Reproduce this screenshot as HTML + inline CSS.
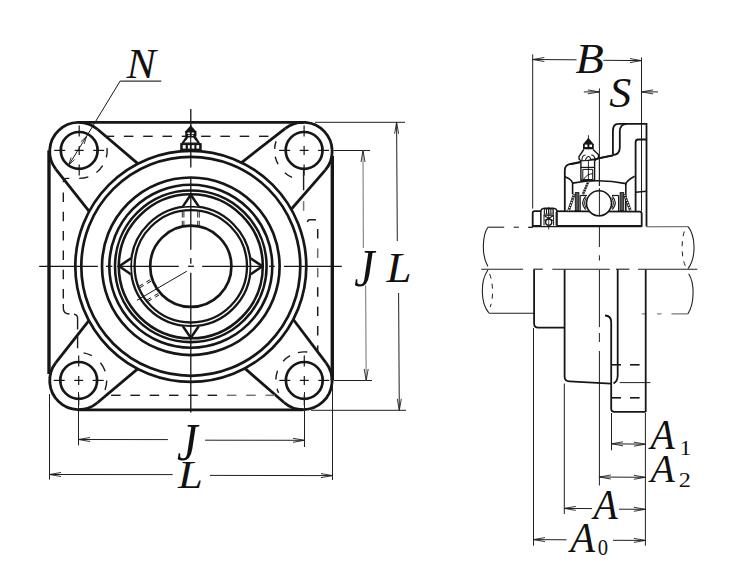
<!DOCTYPE html>
<html><head><meta charset="utf-8"><style>
html,body{margin:0;padding:0;background:#fff;}
svg{display:block;}
text{font-family:"Liberation Serif",serif;fill:#111;}
</style></head><body>
<svg width="729" height="581" viewBox="0 0 729 581">
<rect width="729" height="581" fill="#fff"/>
<line x1="79.00" y1="122.40" x2="304.00" y2="122.40" stroke="#161616" stroke-width="2.8" />
<line x1="79.00" y1="409.80" x2="303.00" y2="409.80" stroke="#161616" stroke-width="2.8" />
<line x1="49.00" y1="150.40" x2="49.00" y2="374.00" stroke="#161616" stroke-width="3.4" />
<line x1="332.30" y1="156.00" x2="332.30" y2="380.00" stroke="#161616" stroke-width="3.4" />
<line x1="97.52" y1="129.24" x2="137.85" y2="163.65" stroke="#161616" stroke-width="2.8" />
<line x1="55.93" y1="169.26" x2="89.17" y2="211.42" stroke="#161616" stroke-width="2.8" />
<path d="M97.52,129.24 L97.52,129.24 A29.0,29.0 0 0 0 55.93,169.26 L55.93,169.26" fill="none" stroke="#161616" stroke-width="2.8" />
<circle cx="79.20" cy="150.40" r="18.40" fill="none" stroke="#161616" stroke-width="2.7" />
<line x1="74.70" y1="150.40" x2="83.70" y2="150.40" stroke="#161616" stroke-width="1.2" />
<line x1="79.20" y1="145.90" x2="79.20" y2="154.90" stroke="#161616" stroke-width="1.2" />
<line x1="54.20" y1="150.40" x2="65.20" y2="150.40" stroke="#161616" stroke-width="1.2" />
<line x1="79.20" y1="125.40" x2="79.20" y2="136.40" stroke="#161616" stroke-width="1.2" />
<line x1="93.20" y1="150.40" x2="104.20" y2="150.40" stroke="#161616" stroke-width="1.2" />
<line x1="79.20" y1="164.40" x2="79.20" y2="175.40" stroke="#161616" stroke-width="1.2" />
<line x1="285.40" y1="128.41" x2="241.52" y2="162.53" stroke="#161616" stroke-width="2.8" />
<line x1="325.08" y1="170.33" x2="291.23" y2="209.26" stroke="#161616" stroke-width="2.8" />
<path d="M285.40,128.41 L285.40,128.41 A29.0,29.0 0 0 1 325.08,170.33 L325.08,170.33" fill="none" stroke="#161616" stroke-width="2.8" />
<circle cx="304.10" cy="150.40" r="18.40" fill="none" stroke="#161616" stroke-width="2.7" />
<line x1="299.60" y1="150.40" x2="308.60" y2="150.40" stroke="#161616" stroke-width="1.2" />
<line x1="304.10" y1="145.90" x2="304.10" y2="154.90" stroke="#161616" stroke-width="1.2" />
<line x1="279.10" y1="150.40" x2="290.10" y2="150.40" stroke="#161616" stroke-width="1.2" />
<line x1="304.10" y1="125.40" x2="304.10" y2="136.40" stroke="#161616" stroke-width="1.2" />
<line x1="318.10" y1="150.40" x2="329.10" y2="150.40" stroke="#161616" stroke-width="1.2" />
<line x1="304.10" y1="164.40" x2="304.10" y2="175.40" stroke="#161616" stroke-width="1.2" />
<line x1="55.87" y1="362.72" x2="88.85" y2="320.59" stroke="#161616" stroke-width="2.8" />
<line x1="97.38" y1="402.78" x2="137.68" y2="368.86" stroke="#161616" stroke-width="2.8" />
<path d="M55.87,362.72 L55.87,362.72 A29.0,29.0 0 0 0 97.38,402.78 L97.38,402.78" fill="none" stroke="#161616" stroke-width="2.8" />
<circle cx="78.70" cy="380.40" r="18.40" fill="none" stroke="#161616" stroke-width="2.7" />
<line x1="74.20" y1="380.40" x2="83.20" y2="380.40" stroke="#161616" stroke-width="1.2" />
<line x1="78.70" y1="375.90" x2="78.70" y2="384.90" stroke="#161616" stroke-width="1.2" />
<line x1="53.70" y1="380.40" x2="64.70" y2="380.40" stroke="#161616" stroke-width="1.2" />
<line x1="78.70" y1="355.40" x2="78.70" y2="366.40" stroke="#161616" stroke-width="1.2" />
<line x1="92.70" y1="380.40" x2="103.70" y2="380.40" stroke="#161616" stroke-width="1.2" />
<line x1="78.70" y1="394.40" x2="78.70" y2="405.40" stroke="#161616" stroke-width="1.2" />
<line x1="326.24" y1="363.12" x2="293.31" y2="319.52" stroke="#161616" stroke-width="2.8" />
<line x1="284.05" y1="402.47" x2="244.89" y2="368.35" stroke="#161616" stroke-width="2.8" />
<path d="M326.24,363.12 L326.24,363.12 A29.0,29.0 0 0 1 284.05,402.47 L284.05,402.47" fill="none" stroke="#161616" stroke-width="2.8" />
<circle cx="304.30" cy="380.40" r="18.40" fill="none" stroke="#161616" stroke-width="2.7" />
<line x1="299.80" y1="380.40" x2="308.80" y2="380.40" stroke="#161616" stroke-width="1.2" />
<line x1="304.30" y1="375.90" x2="304.30" y2="384.90" stroke="#161616" stroke-width="1.2" />
<line x1="279.30" y1="380.40" x2="290.30" y2="380.40" stroke="#161616" stroke-width="1.2" />
<line x1="304.30" y1="355.40" x2="304.30" y2="366.40" stroke="#161616" stroke-width="1.2" />
<line x1="318.30" y1="380.40" x2="329.30" y2="380.40" stroke="#161616" stroke-width="1.2" />
<line x1="304.30" y1="394.40" x2="304.30" y2="405.40" stroke="#161616" stroke-width="1.2" />
<circle cx="190.80" cy="266.30" r="115.50" fill="none" stroke="#161616" stroke-width="2.7" />
<circle cx="190.80" cy="266.30" r="109.50" fill="none" stroke="#161616" stroke-width="2.7" />
<circle cx="190.80" cy="266.30" r="88.80" fill="none" stroke="#161616" stroke-width="2.7" />
<circle cx="190.80" cy="266.30" r="81.50" fill="none" stroke="#161616" stroke-width="2.6" />
<circle cx="190.80" cy="266.30" r="75.80" fill="none" stroke="#161616" stroke-width="2.6" />
<circle cx="190.80" cy="266.30" r="72.00" fill="none" stroke="#161616" stroke-width="2.6" />
<circle cx="190.80" cy="266.30" r="59.90" fill="none" stroke="#161616" stroke-width="2.3" />
<circle cx="190.80" cy="266.30" r="56.20" fill="none" stroke="#161616" stroke-width="2.3" />
<circle cx="190.80" cy="266.30" r="40.60" fill="none" stroke="#161616" stroke-width="2.7" />
<path d="M250.70,274.20 Q252.20,266.30 250.70,258.40 L262.40,266.30 Z" fill="#fff" stroke="#161616" stroke-width="0" stroke="none"/>
<path d="M250.70,274.20 L262.40,266.30 L250.70,258.40" fill="none" stroke="#161616" stroke-width="2.5" stroke-linejoin="round"/>
<path d="M182.90,326.20 Q190.80,327.70 198.70,326.20 L190.80,337.90 Z" fill="#fff" stroke="#161616" stroke-width="0" stroke="none"/>
<path d="M182.90,326.20 L190.80,337.90 L198.70,326.20" fill="none" stroke="#161616" stroke-width="2.5" stroke-linejoin="round"/>
<path d="M130.90,258.40 Q129.40,266.30 130.90,274.20 L119.20,266.30 Z" fill="#fff" stroke="#161616" stroke-width="0" stroke="none"/>
<path d="M130.90,258.40 L119.20,266.30 L130.90,274.20" fill="none" stroke="#161616" stroke-width="2.5" stroke-linejoin="round"/>
<path d="M198.70,206.40 Q190.80,204.90 182.90,206.40 L190.80,194.70 Z" fill="#fff" stroke="#161616" stroke-width="0" stroke="none"/>
<path d="M198.70,206.40 L190.80,194.70 L182.90,206.40" fill="none" stroke="#161616" stroke-width="2.5" stroke-linejoin="round"/>
<line x1="39.20" y1="266.30" x2="97.90" y2="266.30" stroke="#161616" stroke-width="1.3" />
<line x1="106.00" y1="266.30" x2="112.30" y2="266.30" stroke="#161616" stroke-width="1.3" />
<line x1="117.10" y1="266.30" x2="178.80" y2="266.30" stroke="#161616" stroke-width="1.3" />
<line x1="188.10" y1="266.30" x2="193.90" y2="266.30" stroke="#161616" stroke-width="1.3" />
<line x1="202.20" y1="266.30" x2="262.00" y2="266.30" stroke="#161616" stroke-width="1.3" />
<line x1="269.00" y1="266.30" x2="274.80" y2="266.30" stroke="#161616" stroke-width="1.3" />
<line x1="283.90" y1="266.30" x2="341.80" y2="266.30" stroke="#161616" stroke-width="1.3" />
<line x1="190.80" y1="109.00" x2="190.80" y2="167.50" stroke="#161616" stroke-width="1.3" />
<line x1="190.80" y1="177.00" x2="190.80" y2="249.70" stroke="#161616" stroke-width="1.3" />
<line x1="190.80" y1="258.00" x2="190.80" y2="263.80" stroke="#161616" stroke-width="1.3" />
<line x1="190.80" y1="272.80" x2="190.80" y2="412.40" stroke="#161616" stroke-width="1.3" />
<line x1="182.30" y1="211.50" x2="182.30" y2="217.50" stroke="#161616" stroke-width="0.9" />
<line x1="182.30" y1="220.80" x2="182.30" y2="225.00" stroke="#161616" stroke-width="0.9" />
<line x1="183.90" y1="211.50" x2="183.90" y2="217.50" stroke="#161616" stroke-width="0.9" />
<line x1="183.90" y1="220.80" x2="183.90" y2="225.00" stroke="#161616" stroke-width="0.9" />
<line x1="197.70" y1="211.50" x2="197.70" y2="217.50" stroke="#161616" stroke-width="0.9" />
<line x1="197.70" y1="220.80" x2="197.70" y2="225.00" stroke="#161616" stroke-width="0.9" />
<line x1="199.30" y1="211.50" x2="199.30" y2="217.50" stroke="#161616" stroke-width="0.9" />
<line x1="199.30" y1="220.80" x2="199.30" y2="225.00" stroke="#161616" stroke-width="0.9" />
<line x1="186.80" y1="271.20" x2="137.00" y2="300.30" stroke="#161616" stroke-width="1.0" />
<line x1="151.08" y1="281.17" x2="147.28" y2="283.39" stroke="#161616" stroke-width="1.0" />
<line x1="150.22" y1="279.70" x2="146.42" y2="281.92" stroke="#161616" stroke-width="1.0" />
<line x1="158.24" y1="293.43" x2="154.44" y2="295.65" stroke="#161616" stroke-width="1.0" />
<line x1="159.10" y1="294.90" x2="155.30" y2="297.12" stroke="#161616" stroke-width="1.0" />
<line x1="143.74" y1="285.46" x2="139.94" y2="287.68" stroke="#161616" stroke-width="1.0" />
<line x1="142.88" y1="283.99" x2="139.08" y2="286.21" stroke="#161616" stroke-width="1.0" />
<line x1="150.90" y1="297.72" x2="147.10" y2="299.94" stroke="#161616" stroke-width="1.0" />
<line x1="151.76" y1="299.19" x2="147.96" y2="301.41" stroke="#161616" stroke-width="1.0" />
<line x1="106.50" y1="136.30" x2="114.10" y2="136.30" stroke="#1c1c1c" stroke-width="1.4" />
<line x1="123.90" y1="136.30" x2="133.40" y2="136.30" stroke="#1c1c1c" stroke-width="1.4" />
<line x1="143.20" y1="136.30" x2="152.70" y2="136.30" stroke="#1c1c1c" stroke-width="1.4" />
<line x1="162.50" y1="136.30" x2="172.00" y2="136.30" stroke="#1c1c1c" stroke-width="1.4" />
<line x1="181.80" y1="136.30" x2="191.30" y2="136.30" stroke="#1c1c1c" stroke-width="1.4" />
<line x1="201.10" y1="136.30" x2="210.60" y2="136.30" stroke="#1c1c1c" stroke-width="1.4" />
<line x1="220.40" y1="136.30" x2="229.90" y2="136.30" stroke="#1c1c1c" stroke-width="1.4" />
<line x1="239.70" y1="136.30" x2="249.20" y2="136.30" stroke="#1c1c1c" stroke-width="1.4" />
<line x1="259.00" y1="136.30" x2="268.50" y2="136.30" stroke="#1c1c1c" stroke-width="1.4" />
<line x1="111.10" y1="395.30" x2="120.60" y2="395.30" stroke="#1c1c1c" stroke-width="1.4" />
<line x1="130.40" y1="395.30" x2="139.90" y2="395.30" stroke="#1c1c1c" stroke-width="1.4" />
<line x1="149.70" y1="395.30" x2="159.20" y2="395.30" stroke="#1c1c1c" stroke-width="1.4" />
<line x1="169.00" y1="395.30" x2="178.50" y2="395.30" stroke="#1c1c1c" stroke-width="1.4" />
<line x1="188.30" y1="395.30" x2="197.80" y2="395.30" stroke="#1c1c1c" stroke-width="1.4" />
<line x1="207.60" y1="395.30" x2="217.10" y2="395.30" stroke="#1c1c1c" stroke-width="1.4" />
<line x1="226.90" y1="395.30" x2="236.40" y2="395.30" stroke="#777" stroke-width="1.5" />
<line x1="246.20" y1="395.30" x2="255.70" y2="395.30" stroke="#777" stroke-width="1.5" />
<line x1="265.50" y1="395.30" x2="275.00" y2="395.30" stroke="#777" stroke-width="1.5" />
<path d="M69.3,178.4 L67.2,178.4 Q63.3,178.4 63.3,182.3" fill="none" stroke="#1c1c1c" stroke-width="1.4" />
<line x1="63.30" y1="192.50" x2="63.30" y2="202.00" stroke="#1c1c1c" stroke-width="1.4" />
<line x1="63.30" y1="211.80" x2="63.30" y2="221.30" stroke="#1c1c1c" stroke-width="1.4" />
<line x1="63.30" y1="231.10" x2="63.30" y2="240.60" stroke="#1c1c1c" stroke-width="1.4" />
<line x1="63.30" y1="250.40" x2="63.30" y2="259.90" stroke="#1c1c1c" stroke-width="1.4" />
<line x1="63.30" y1="269.70" x2="63.30" y2="279.20" stroke="#1c1c1c" stroke-width="1.4" />
<line x1="63.30" y1="289.00" x2="63.30" y2="298.50" stroke="#1c1c1c" stroke-width="1.4" />
<path d="M63.3,304 L63.3,308 Q63.3,314 69.5,314" fill="none" stroke="#1c1c1c" stroke-width="1.4" />
<path d="M74,314.3 Q77.6,314.6 77.6,318.5 L77.6,329.4" fill="none" stroke="#1c1c1c" stroke-width="1.4" />
<line x1="77.60" y1="335.70" x2="77.60" y2="348.30" stroke="#1c1c1c" stroke-width="1.4" />
<line x1="303.60" y1="169.50" x2="303.60" y2="190.30" stroke="#1c1c1c" stroke-width="1.4" />
<line x1="303.60" y1="201.10" x2="303.60" y2="210.80" stroke="#777" stroke-width="1.5" />
<path d="M307.6,222 Q307.6,219.8 309.6,219.8 L315.9,219.8" fill="none" stroke="#1c1c1c" stroke-width="1.4" />
<line x1="317.70" y1="229.00" x2="317.70" y2="238.50" stroke="#1c1c1c" stroke-width="1.5" />
<line x1="317.70" y1="248.40" x2="317.70" y2="257.90" stroke="#6a6a6a" stroke-width="1.5" />
<line x1="317.70" y1="267.80" x2="317.70" y2="277.30" stroke="#6a6a6a" stroke-width="1.5" />
<line x1="317.70" y1="287.20" x2="317.70" y2="296.70" stroke="#1c1c1c" stroke-width="1.5" />
<line x1="317.70" y1="306.60" x2="317.70" y2="316.10" stroke="#1c1c1c" stroke-width="1.5" />
<line x1="317.70" y1="326.00" x2="317.70" y2="335.50" stroke="#1c1c1c" stroke-width="1.5" />
<line x1="317.70" y1="345.40" x2="317.70" y2="351.00" stroke="#1c1c1c" stroke-width="1.5" />
<path d="M107.09,147.96 A28,28 0 0 1 106.32,157.36" fill="none" stroke="#1c1c1c" stroke-width="1.4" />
<path d="M102.68,165.65 A28,28 0 0 1 96.44,172.46" fill="none" stroke="#1c1c1c" stroke-width="1.4" />
<path d="M88.32,176.87 A28,28 0 0 1 79.20,178.40" fill="none" stroke="#1c1c1c" stroke-width="1.4" />
<path d="M292.10,177.35 A29.5,29.5 0 0 1 284.75,172.66" fill="none" stroke="#1c1c1c" stroke-width="1.4" />
<path d="M278.05,164.25 A29.5,29.5 0 0 1 275.24,156.53" fill="none" stroke="#1c1c1c" stroke-width="1.4" />
<path d="M274.64,148.86 A29.5,29.5 0 0 1 276.04,141.28" fill="none" stroke="#1c1c1c" stroke-width="1.4" />
<path d="M83.56,352.83 A28,28 0 0 1 91.85,355.68" fill="none" stroke="#1c1c1c" stroke-width="1.4" />
<path d="M100.46,362.78 A28,28 0 0 1 105.17,371.28" fill="none" stroke="#1c1c1c" stroke-width="1.4" />
<path d="M106.70,380.40 A28,28 0 0 1 105.01,389.98" fill="none" stroke="#1c1c1c" stroke-width="1.4" />
<path d="M278.68,392.89 A28.5,28.5 0 0 1 277.05,388.73" fill="none" stroke="#1c1c1c" stroke-width="1.4" />
<path d="M275.82,379.41 A28.5,28.5 0 0 1 277.52,370.65" fill="none" stroke="#1c1c1c" stroke-width="1.4" />
<path d="M283.12,361.33 A28.5,28.5 0 0 1 290.05,355.72" fill="none" stroke="#1c1c1c" stroke-width="1.4" />
<path d="M297.89,352.63 A28.5,28.5 0 0 1 307.28,352.06" fill="none" stroke="#1c1c1c" stroke-width="1.4" />
<path d="M190.7,125.3 L196.8,131.9 L184.7,131.9 Z" fill="#161616"/>
<rect x="185.2" y="131.6" width="11.3" height="4.7" fill="#161616"/>
<rect x="187.5" y="132.5" width="2.3" height="1.5" fill="#fff"/><rect x="191.6" y="132.5" width="2.3" height="1.5" fill="#fff"/>
<rect x="188.2" y="134.8" width="1.6" height="1.1" fill="#fff"/><rect x="191.6" y="134.8" width="1.6" height="1.1" fill="#fff"/>
<path d="M186.2,136 L195.6,136 L200.3,143.4 L181.1,143.4 Z" fill="#161616"/>
<path d="M188.2,137.4 L193.3,137.4 Q195.4,140.5 197.4,142.6 L184.1,142.6 Q186.3,140.5 188.2,137.4 Z" fill="#fff"/>
<rect x="180.2" y="143.1" width="21.5" height="6.9" fill="#161616"/>
<rect x="182.7" y="145.1" width="3.0" height="3.5" fill="#fff"/>
<rect x="187.9" y="145.1" width="2.0" height="3.5" fill="#fff"/>
<rect x="191.6" y="145.1" width="2.8" height="3.5" fill="#fff"/>
<rect x="196.4" y="145.1" width="2.8" height="3.5" fill="#fff"/>
<line x1="190.70" y1="125.00" x2="190.70" y2="150.00" stroke="#161616" stroke-width="1.1" />
<line x1="120.20" y1="81.20" x2="161.30" y2="81.20" stroke="#333" stroke-width="1.2" />
<line x1="120.20" y1="81.00" x2="86.50" y2="136.40" stroke="#1a1a1a" stroke-width="1.0" />
<line x1="86.50" y1="136.40" x2="68.60" y2="165.30" stroke="#1a1a1a" stroke-width="1.0" />
<path d="M84.19,143.95 L86.70,136.10 L80.79,141.85" fill="none" stroke="#202020" stroke-width="0.9" />
<path d="M71.11,157.45 L68.60,165.30 L74.51,159.55" fill="none" stroke="#202020" stroke-width="0.9" />
<line x1="78.50" y1="392.00" x2="78.50" y2="445.30" stroke="#202020" stroke-width="1.0" />
<line x1="304.50" y1="392.00" x2="304.50" y2="447.00" stroke="#202020" stroke-width="1.0" />
<line x1="78.50" y1="439.50" x2="167.90" y2="439.60" stroke="#202020" stroke-width="1.0" />
<line x1="205.10" y1="440.20" x2="304.50" y2="440.30" stroke="#202020" stroke-width="1.0" />
<path d="M90.00,437.50 L78.50,439.50 L90.00,441.50" fill="none" stroke="#202020" stroke-width="0.9" />
<path d="M293.00,442.30 L304.50,440.30 L293.00,438.30" fill="none" stroke="#202020" stroke-width="0.9" />
<line x1="49.50" y1="394.00" x2="49.50" y2="479.50" stroke="#202020" stroke-width="1.0" />
<line x1="332.50" y1="383.00" x2="332.50" y2="480.00" stroke="#202020" stroke-width="1.0" />
<line x1="49.50" y1="474.50" x2="172.70" y2="474.60" stroke="#202020" stroke-width="1.0" />
<line x1="209.90" y1="475.40" x2="332.50" y2="475.60" stroke="#202020" stroke-width="1.0" />
<path d="M61.00,472.50 L49.50,474.50 L61.00,476.50" fill="none" stroke="#202020" stroke-width="0.9" />
<path d="M321.00,477.60 L332.50,475.60 L321.00,473.60" fill="none" stroke="#202020" stroke-width="0.9" />
<line x1="333.50" y1="150.50" x2="370.00" y2="150.50" stroke="#202020" stroke-width="1.0" />
<line x1="333.50" y1="380.50" x2="372.00" y2="380.50" stroke="#202020" stroke-width="1.0" />
<line x1="363.00" y1="150.50" x2="363.40" y2="247.90" stroke="#8a8a8a" stroke-width="1.2" />
<line x1="365.60" y1="285.60" x2="366.20" y2="380.50" stroke="#8a8a8a" stroke-width="1.2" />
<path d="M365.00,162.00 L363.00,150.50 L361.00,162.00" fill="none" stroke="#202020" stroke-width="0.9" />
<path d="M364.20,369.00 L366.20,380.50 L368.20,369.00" fill="none" stroke="#202020" stroke-width="0.9" />
<line x1="315.00" y1="122.30" x2="405.00" y2="122.30" stroke="#202020" stroke-width="1.0" />
<line x1="311.00" y1="410.30" x2="406.00" y2="410.30" stroke="#202020" stroke-width="1.0" />
<line x1="396.60" y1="122.30" x2="397.30" y2="241.00" stroke="#202020" stroke-width="1.0" />
<line x1="398.60" y1="293.00" x2="399.30" y2="410.30" stroke="#202020" stroke-width="1.0" />
<path d="M398.60,133.80 L396.60,122.30 L394.60,133.80" fill="none" stroke="#202020" stroke-width="0.9" />
<path d="M397.30,398.80 L399.30,410.30 L401.30,398.80" fill="none" stroke="#202020" stroke-width="0.9" />
<line x1="532.70" y1="54.40" x2="532.70" y2="208.60" stroke="#202020" stroke-width="1.0" />
<line x1="641.50" y1="57.50" x2="641.50" y2="211.30" stroke="#202020" stroke-width="1.0" />
<line x1="532.80" y1="59.50" x2="576.60" y2="59.80" stroke="#202020" stroke-width="1.0" />
<line x1="603.30" y1="60.30" x2="641.40" y2="60.60" stroke="#202020" stroke-width="1.0" />
<path d="M544.30,57.50 L532.80,59.50 L544.30,61.50" fill="none" stroke="#202020" stroke-width="0.9" />
<path d="M629.90,62.60 L641.40,60.60 L629.90,58.60" fill="none" stroke="#202020" stroke-width="0.9" />
<line x1="583.80" y1="91.90" x2="599.30" y2="91.90" stroke="#202020" stroke-width="1.0" />
<path d="M587.80,93.90 L599.30,91.90 L587.80,89.90" fill="none" stroke="#202020" stroke-width="0.9" />
<line x1="641.60" y1="91.90" x2="657.90" y2="91.90" stroke="#202020" stroke-width="1.0" />
<path d="M653.10,89.90 L641.60,91.90 L653.10,93.90" fill="none" stroke="#202020" stroke-width="0.9" />
<line x1="599.40" y1="88.40" x2="599.40" y2="186.00" stroke="#202020" stroke-width="1.0" />
<line x1="599.40" y1="188.50" x2="599.40" y2="247.00" stroke="#202020" stroke-width="1.0" />
<line x1="599.40" y1="255.30" x2="599.40" y2="260.50" stroke="#202020" stroke-width="1.0" />
<line x1="599.40" y1="269.80" x2="599.40" y2="327.20" stroke="#202020" stroke-width="1.0" />
<line x1="599.40" y1="333.00" x2="599.40" y2="342.00" stroke="#202020" stroke-width="1.0" />
<line x1="599.40" y1="351.00" x2="599.40" y2="485.50" stroke="#202020" stroke-width="1.0" />
<line x1="481.30" y1="269.20" x2="523.10" y2="269.20" stroke="#202020" stroke-width="1.1" />
<line x1="533.40" y1="269.20" x2="542.80" y2="269.20" stroke="#202020" stroke-width="1.1" />
<line x1="552.30" y1="269.20" x2="609.70" y2="269.20" stroke="#202020" stroke-width="1.1" />
<line x1="616.00" y1="269.20" x2="629.40" y2="269.20" stroke="#202020" stroke-width="1.1" />
<line x1="638.10" y1="269.20" x2="697.30" y2="269.20" stroke="#202020" stroke-width="1.1" />
<line x1="487.90" y1="227.20" x2="504.20" y2="227.20" stroke="#202020" stroke-width="1.1" />
<line x1="513.70" y1="227.20" x2="518.90" y2="227.20" stroke="#202020" stroke-width="1.1" />
<line x1="528.30" y1="227.20" x2="532.60" y2="227.20" stroke="#202020" stroke-width="1.1" />
<line x1="646.50" y1="226.80" x2="688.10" y2="226.70" stroke="#555" stroke-width="1.0" />
<path d="M487.9,227.2 C482.5,235 481.2,255 487.9,266.4" fill="none" stroke="#202020" stroke-width="1.1" />
<path d="M688.1,226.7 C695.5,236 696.5,257 688.1,268.6" fill="none" stroke="#202020" stroke-width="1.1" />
<path d="M684.3,231.5 C681.2,241 681.2,257 685.3,265.8" fill="none" stroke="#202020" stroke-width="1.0" stroke-dasharray="5 5"/>
<path d="M487.9,270 C480.2,281 480.4,303 488.8,312.9" fill="none" stroke="#202020" stroke-width="1.1" />
<path d="M489.6,274 C493.4,283 493.4,299 490.2,307" fill="none" stroke="#202020" stroke-width="1.0" stroke-dasharray="5 5"/>
<path d="M688.7,273.7 C694.8,283 694.6,304 687.8,313.9" fill="none" stroke="#202020" stroke-width="1.1" />
<line x1="488.80" y1="313.30" x2="534.00" y2="313.30" stroke="#202020" stroke-width="1.1" />
<line x1="641.70" y1="313.90" x2="646.20" y2="313.90" stroke="#666" stroke-width="1.0" />
<line x1="657.00" y1="313.90" x2="661.60" y2="313.90" stroke="#666" stroke-width="1.0" />
<line x1="671.50" y1="313.90" x2="687.80" y2="313.90" stroke="#555" stroke-width="1.0" />
<path d="M532.7,226 L532.7,213 Q532.7,211.2 534.5,211.2 L639.8,211.7 Q641.7,211.7 641.7,213.7 L641.7,225.9 Z" fill="#fff" stroke="#161616" stroke-width="1.8" />
<line x1="532.70" y1="226.10" x2="641.70" y2="226.10" stroke="#161616" stroke-width="2.3" />
<path d="M540.8,226 L540.8,212 Q540.8,208.4 544.5,208.2 L553.3,208.2 Q557,208.4 557,212 L557,226" fill="#fff" stroke="#161616" stroke-width="1.6" />
<rect x="543.8" y="208.2" width="10" height="6.4" fill="#161616"/>
<rect x="544.9" y="209.4" width="1.1" height="4.3" fill="#fff"/>
<rect x="547.0" y="209.4" width="1.1" height="4.3" fill="#fff"/>
<rect x="549.2" y="209.4" width="1.1" height="4.3" fill="#fff"/>
<rect x="551.4" y="209.4" width="1.1" height="4.3" fill="#fff"/>
<line x1="543.80" y1="215.40" x2="553.80" y2="215.40" stroke="#161616" stroke-width="0.9" />
<line x1="544.60" y1="216.00" x2="552.80" y2="220.60" stroke="#161616" stroke-width="1.2" />
<line x1="552.80" y1="216.00" x2="544.60" y2="220.60" stroke="#161616" stroke-width="1.2" />
<circle cx="548.70" cy="222.30" r="3.10" fill="none" stroke="#161616" stroke-width="1.3" />
<line x1="544.00" y1="214.60" x2="544.00" y2="225.50" stroke="#161616" stroke-width="1.0" />
<line x1="553.60" y1="214.60" x2="553.60" y2="225.50" stroke="#161616" stroke-width="1.0" />
<line x1="541.30" y1="212.00" x2="541.30" y2="225.50" stroke="#777" stroke-width="0.8" />
<line x1="556.20" y1="212.00" x2="556.20" y2="225.50" stroke="#161616" stroke-width="1.2" />
<line x1="548.70" y1="207.00" x2="548.70" y2="229.70" stroke="#161616" stroke-width="0.8" />
<line x1="528.40" y1="227.50" x2="532.70" y2="227.50" stroke="#202020" stroke-width="1.0" />
<path d="M618.1,123.9 L646.5,123.9 L646.5,226.4" fill="none" stroke="#161616" stroke-width="1.8" />
<path d="M618.1,123.9 Q612.9,123.9 612.9,131.4 L612.9,154.6" fill="none" stroke="#161616" stroke-width="1.8" />
<path d="M626.7,123.9 Q619.8,124.4 619.8,131.4 L619.8,147.7 Q619.8,154.3 612.9,155" fill="none" stroke="#161616" stroke-width="1.8" />
<path d="M612.9,155.4 L569.5,164.1 Q564.8,165.1 564.8,170.5 L564.8,211" fill="none" stroke="#161616" stroke-width="1.8" />
<path d="M646.5,139.5 L638.2,139.5 Q635.6,139.5 635.6,142.3 L635.6,211.3" fill="none" stroke="#161616" stroke-width="1.8" />
<line x1="635.60" y1="192.30" x2="646.50" y2="191.30" stroke="#161616" stroke-width="1.6" />
<path d="M564.8,176.8 Q571.5,179 572.6,183.1 L572.6,194" fill="none" stroke="#161616" stroke-width="1.6" />
<path d="M572.6,183.1 Q599.4,178.2 626,183.6" fill="none" stroke="#161616" stroke-width="1.6" />
<path d="M625.6,184.7 Q626,181 634.6,176.3" fill="none" stroke="#161616" stroke-width="1.6" />
<line x1="625.80" y1="183.60" x2="625.80" y2="211.30" stroke="#161616" stroke-width="1.6" />
<circle cx="599.0" cy="203.3" r="12.5" fill="#fff" stroke="#161616" stroke-width="1.6"/>
<line x1="599.40" y1="188.50" x2="599.40" y2="216.50" stroke="#202020" stroke-width="1.0" />
<path d="M585.6,196.3 Q579.8,202.8 585.6,209.5" fill="none" stroke="#161616" stroke-width="1.2" />
<path d="M586.3,197.6 Q582.9,202.8 586.3,208.3" fill="none" stroke="#161616" stroke-width="1.0" />
<path d="M612.4,196.3 Q618.2,202.8 612.4,209.5" fill="none" stroke="#161616" stroke-width="1.2" />
<path d="M611.7,197.6 Q615.1,202.8 611.7,208.3" fill="none" stroke="#161616" stroke-width="1.0" />
<line x1="580.20" y1="195.50" x2="580.20" y2="211.00" stroke="#161616" stroke-width="1.2" />
<line x1="618.60" y1="195.50" x2="618.60" y2="211.00" stroke="#161616" stroke-width="1.2" />
<line x1="580.20" y1="195.50" x2="587.00" y2="195.50" stroke="#161616" stroke-width="1.2" />
<line x1="612.00" y1="195.50" x2="618.60" y2="195.50" stroke="#161616" stroke-width="1.2" />
<path d="M568.6,210.6 L574.2,194.2" fill="none" stroke="#161616" stroke-width="2.6" />
<path d="M568.6,210.6 L574.2,194.2" fill="none" stroke="#fff" stroke-width="1.3" stroke-dasharray="1.2 1.4"/>
<path d="M630.4,210.6 L624.4,194.2" fill="none" stroke="#161616" stroke-width="2.6" />
<path d="M630.4,210.6 L624.4,194.2" fill="none" stroke="#fff" stroke-width="1.3" stroke-dasharray="1.2 1.4"/>
<rect x="575.3" y="192.6" width="3.6" height="18" fill="#555" stroke="#161616" stroke-width="0.9"/>
<rect x="620.1" y="192.6" width="3.6" height="18" fill="#555" stroke="#161616" stroke-width="0.9"/>
<path d="M588.3,181.6 L582.9,194.4" fill="none" stroke="#161616" stroke-width="2.4" />
<path d="M588.3,181.6 L582.9,194.4" fill="none" stroke="#fff" stroke-width="1.0999999999999999" stroke-dasharray="1.2 1.4"/>
<line x1="588.40" y1="135.20" x2="588.40" y2="181.00" stroke="#161616" stroke-width="0.9" />
<path d="M588.4,137.8 L594.0,144.4 L582.8,144.4 Z" fill="#161616"/>
<rect x="583.0" y="144" width="10.8" height="5.6" fill="#161616"/>
<rect x="584.8" y="144.6" width="2.6" height="2.4" fill="#fff"/><rect x="589.4" y="144.6" width="2.6" height="2.4" fill="#fff"/>
<path d="M583.8,149.5 L579.0,156.5 Q578.4,160.5 582.4,161 L594.4,161 L598.6,157.5 L598.4,154.6 L593.0,149.5" fill="#fff" stroke="#161616" stroke-width="1.4" />
<path d="M581.9,160.5 Q581.9,155 585.6,155 M591.1999999999999,155 Q594.9,155 594.9,160" fill="none" stroke="#161616" stroke-width="1.1" />
<path d="M585.4,160 Q588.4,153 591.4,160" fill="none" stroke="#161616" stroke-width="1.1" />
<path d="M570.5,164.3 L612.9,155.4" fill="none" stroke="#161616" stroke-width="1.8" />
<path d="M580.9,161.5 L580.9,180.2 L594.6,180.2 L594.6,160.5" fill="#fff" stroke="#161616" stroke-width="1.4" />
<line x1="580.90" y1="167.40" x2="594.60" y2="167.40" stroke="#161616" stroke-width="1.2" />
<path d="M582.8,169.4 L592.6999999999999,169.4 L592.6999999999999,179.6 L582.8,179.6 Z" fill="none" stroke="#161616" stroke-width="1.0" />
<path d="M583.4,179.5 Q587.4,173.5 592.9,173.8" fill="none" stroke="#161616" stroke-width="1.0" />
<line x1="588.40" y1="160.00" x2="588.40" y2="181.00" stroke="#161616" stroke-width="0.9" />
<line x1="599.40" y1="160.00" x2="599.40" y2="186.00" stroke="#202020" stroke-width="1.0" />
<path d="M534.1,269.5 L534.1,323.4 Q534.1,327.6 538.3,327.6 L564.6,327.6" fill="none" stroke="#161616" stroke-width="1.8" />
<path d="M564.6,269.5 L564.6,376.5 Q564.6,381.2 569.5,381.4 L611,383.6" fill="none" stroke="#161616" stroke-width="1.8" />
<path d="M617.7,269.5 L617.7,375 Q617.7,381.5 613.5,383.4" fill="none" stroke="#161616" stroke-width="1.8" />
<path d="M605,315.5 Q611.2,315.8 611.2,322 L611.2,408.5 Q611.2,411.9 614.6,411.9 L645.7,411.9" fill="none" stroke="#161616" stroke-width="1.8" />
<line x1="645.70" y1="269.50" x2="645.70" y2="412.00" stroke="#161616" stroke-width="1.8" />
<line x1="611.20" y1="364.80" x2="621.00" y2="364.80" stroke="#161616" stroke-width="1.6" />
<line x1="630.00" y1="364.80" x2="639.60" y2="364.80" stroke="#161616" stroke-width="1.6" />
<line x1="611.20" y1="397.80" x2="621.00" y2="397.80" stroke="#161616" stroke-width="1.6" />
<line x1="630.00" y1="397.80" x2="639.60" y2="397.80" stroke="#161616" stroke-width="1.6" />
<line x1="619.70" y1="382.60" x2="650.40" y2="382.60" stroke="#202020" stroke-width="1.0" />
<line x1="533.50" y1="328.00" x2="533.50" y2="545.70" stroke="#202020" stroke-width="1.0" />
<line x1="564.30" y1="383.50" x2="564.30" y2="514.10" stroke="#202020" stroke-width="1.0" />
<line x1="611.50" y1="413.00" x2="611.50" y2="450.30" stroke="#202020" stroke-width="1.0" />
<line x1="645.40" y1="413.00" x2="645.40" y2="545.70" stroke="#202020" stroke-width="1.0" />
<line x1="611.50" y1="443.80" x2="645.40" y2="444.20" stroke="#202020" stroke-width="1.0" />
<path d="M623.00,441.80 L611.50,443.80 L623.00,445.80" fill="none" stroke="#202020" stroke-width="0.9" />
<path d="M633.90,446.20 L645.40,444.20 L633.90,442.20" fill="none" stroke="#202020" stroke-width="0.9" />
<line x1="599.30" y1="477.00" x2="645.40" y2="477.30" stroke="#202020" stroke-width="1.0" />
<path d="M610.80,475.00 L599.30,477.00 L610.80,479.00" fill="none" stroke="#202020" stroke-width="0.9" />
<path d="M633.90,479.30 L645.40,477.30 L633.90,475.30" fill="none" stroke="#202020" stroke-width="0.9" />
<line x1="564.30" y1="508.40" x2="592.00" y2="508.60" stroke="#202020" stroke-width="1.0" />
<line x1="619.00" y1="509.20" x2="645.40" y2="509.30" stroke="#202020" stroke-width="1.0" />
<path d="M575.80,506.40 L564.30,508.40 L575.80,510.40" fill="none" stroke="#202020" stroke-width="0.9" />
<path d="M633.90,511.30 L645.40,509.30 L633.90,507.30" fill="none" stroke="#202020" stroke-width="0.9" />
<line x1="533.50" y1="539.60" x2="566.60" y2="539.80" stroke="#202020" stroke-width="1.0" />
<line x1="613.00" y1="540.30" x2="645.40" y2="540.40" stroke="#202020" stroke-width="1.0" />
<path d="M545.00,537.60 L533.50,539.60 L545.00,541.60" fill="none" stroke="#202020" stroke-width="0.9" />
<path d="M633.90,542.40 L645.40,540.40 L633.90,538.40" fill="none" stroke="#202020" stroke-width="0.9" />
<text transform="translate(126.50,77.80) scale(1.0467,1.0089)" font-size="42" font-style="italic">N</text>
<text transform="translate(176.89,460.28) scale(1.1053,1.2571)" font-size="42" font-style="italic">J</text>
<text transform="translate(178.00,488.49) scale(1.0619,0.9679)" font-size="42" font-style="italic">L</text>
<text transform="translate(354.32,285.90) scale(1.0842,1.2464)" font-size="42" font-style="italic">J</text>
<text transform="translate(386.60,281.70) scale(1.0714,0.9964)" font-size="42" font-style="italic">L</text>
<text transform="translate(575.50,72.81) scale(1.1042,0.9857)" font-size="42" font-style="italic">B</text>
<text transform="translate(609.25,107.10) scale(1.0474,0.9893)" font-size="42" font-style="italic">S</text>
<text transform="translate(650.49,448.60) scale(0.9464,0.9929)" font-size="42" font-style="italic">A</text>
<text transform="translate(679.70,455.40) scale(1.0000,0.9267)" font-size="23" font-style="normal">1</text>
<text transform="translate(650.49,481.68) scale(0.9464,0.9464)" font-size="42" font-style="italic">A</text>
<text transform="translate(678.74,487.12) scale(1.0556,0.9533)" font-size="23" font-style="normal">2</text>
<text transform="translate(593.49,519.31) scale(0.9429,0.9893)" font-size="42" font-style="italic">A</text>
<text transform="translate(570.34,552.10) scale(0.9679,0.9929)" font-size="42" font-style="italic">A</text>
<text transform="translate(597.80,554.60) scale(0.9000,0.9867)" font-size="23" font-style="normal">0</text>
</svg></body></html>
